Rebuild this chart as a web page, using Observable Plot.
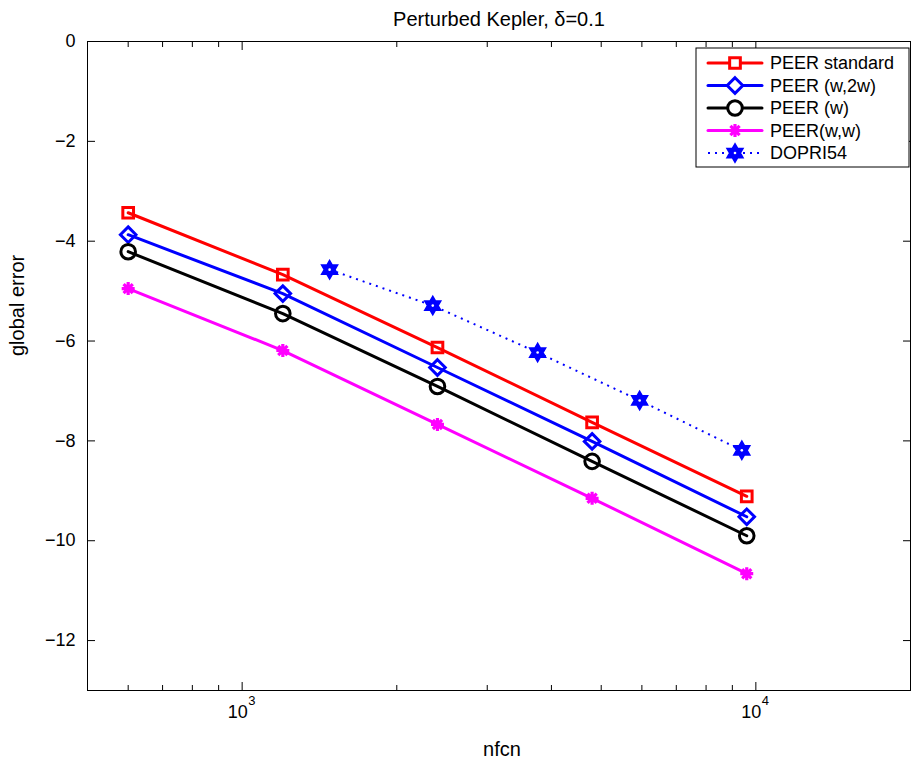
<!DOCTYPE html>
<html>
<head>
<meta charset="utf-8">
<script src="https://cdn.jsdelivr.net/npm/d3@7"></script>
<script src="https://cdn.jsdelivr.net/npm/@observablehq/plot@0.6"></script>
<style>
  html, body { margin: 0; padding: 0; background: #fff; }
  #chart { position: relative; width: 912px; height: 761px; }
  svg { font-family: "Liberation Sans", Arial, Helvetica, sans-serif; }
</style>
</head>
<body>
<div id="chart"></div>
<script>
// ---- data ----
const nfcnPeer = [600, 1200, 2400, 4800, 9600];
const peerStandard = [-3.43, -4.67, -6.13, -7.63, -9.11];
const peerW2w = [-3.87, -5.05, -6.53, -8.01, -9.52];
const peerW = [-4.21, -5.45, -6.91, -8.41, -9.90];
const peerWw = [-4.95, -6.19, -7.67, -9.15, -10.66];
const nfcnDopri = [1480, 2350, 3760, 5940, 9390];
const dopri54 = [-4.57, -5.29, -6.23, -7.19, -8.19];

const seriesNames = ["PEER standard", "PEER (w,2w)", "PEER (w)", "PEER(w,w)", "DOPRI54"];
const xMajorTicks = [1000, 10000];
const xMajorBase = ["10", "10"];
const xMajorExp = ["3", "4"];
const xMinorTicks = [600, 700, 800, 900, 2000, 3000, 4000, 5000, 6000, 7000, 8000, 9000];
const yTicks = [0, -2, -4, -6, -8, -10, -12];
const titleText = "Perturbed Kepler, δ=0.1";
const xLabel = "nfcn";
const yLabel = "global error";

// ---- custom symbols ----
const hexagram = {
  draw(ctx, size) {
    const R = Math.sqrt(size / Math.PI) * 1.25;
    const r = R / Math.sqrt(3);
    for (let i = 0; i < 12; i++) {
      const a = Math.PI / 2 + i * Math.PI / 6;
      const rr = i % 2 ? r : R;
      const x = rr * Math.cos(a), y = -rr * Math.sin(a);
      if (i) ctx.lineTo(x, y); else ctx.moveTo(x, y);
    }
    ctx.closePath();
  }
};
const asterisk8 = {
  draw(ctx, size) {
    const R = Math.sqrt(size / Math.PI);
    for (let i = 0; i < 4; i++) {
      const a = i * Math.PI / 4;
      const x = R * Math.cos(a), y = R * Math.sin(a);
      ctx.moveTo(-x, -y);
      ctx.lineTo(x, y);
    }
  }
};

const styles = [
  {name: seriesNames[0], xs: nfcnPeer, ys: peerStandard, color: "#ff0000", symbol: "square2", r: 6.8, fill: "none", sw: 3, dash: null, lw: 3},
  {name: seriesNames[1], xs: nfcnPeer, ys: peerW2w, color: "#0000ff", symbol: "diamond2", r: 7, fill: "none", sw: 3, dash: null, lw: 3},
  {name: seriesNames[2], xs: nfcnPeer, ys: peerW, color: "#000000", symbol: "circle", r: 7.3, fill: "none", sw: 3, dash: null, lw: 3},
  {name: seriesNames[3], xs: nfcnPeer, ys: peerWw, color: "#ff00ff", symbol: asterisk8, r: 6.5, fill: "none", sw: 3.2, dash: null, lw: 3},
  {name: seriesNames[4], xs: nfcnDopri, ys: dopri54, color: "#0000ff", symbol: hexagram, r: 7.4, fill: "#0000ff", sw: 1.5, dash: "2,5", lw: 2}
];

const rows = styles.flatMap(s => s.xs.map((x, i) => ({series: s.name, x, y: s.ys[i]})));
const majorRows = xMajorTicks.map((v, i) => ({v, base: xMajorBase[i], exp: xMajorExp[i]}));

const marks = [Plot.frame({stroke: "black", strokeWidth: 1})];
// lines
for (const s of styles) {
  marks.push(Plot.line(rows.filter(d => d.series === s.name), {
    x: "x", y: "y", stroke: s.color, strokeWidth: s.lw,
    strokeDasharray: s.dash, strokeLinecap: s.dash ? "butt" : "round"
  }));
}
// markers
for (const s of styles) {
  marks.push(Plot.dot(rows.filter(d => d.series === s.name), {
    x: "x", y: "y", symbol: s.symbol, r: s.r,
    stroke: s.color, fill: s.fill, strokeWidth: s.sw
  }));
}
marks.push(Plot.dot(rows.filter(d => d.series === seriesNames[4]), {x: "x", y: "y", r: 1.3, fill: "white", stroke: null}));

// ticks (inward)
for (const anchor of ["bottom", "top"]) {
  marks.push(Plot.axisX({anchor, ticks: xMajorTicks, tickSize: -8, text: null, label: null}));
  marks.push(Plot.axisX({anchor, ticks: xMinorTicks, tickSize: -5, text: null, label: null}));
}
for (const anchor of ["left", "right"]) {
  marks.push(Plot.axisY({anchor, ticks: yTicks, tickSize: -8, text: null, label: null}));
}
// y tick labels
marks.push(Plot.axisY({anchor: "left", ticks: yTicks, tickSize: 0, tickPadding: 12, fontSize: 18, label: null}));
// x tick labels: 10 with superscript exponent
marks.push(Plot.text(majorRows, {x: "v", text: "base", frameAnchor: "bottom", lineAnchor: "top", dy: 15.2, dx: -4.5, fontSize: 18, fill: "black"}));
marks.push(Plot.text(majorRows, {x: "v", text: "exp", frameAnchor: "bottom", lineAnchor: "top", dy: 5.5, dx: 6, textAnchor: "start", fontSize: 13, fill: "black"}));
// axis labels
marks.push(Plot.text([xLabel], {frameAnchor: "bottom", lineAnchor: "middle", dy: 59.5, dx: 3, fontSize: 20, fill: "black"}));
marks.push(Plot.text([yLabel], {frameAnchor: "left", lineAnchor: "middle", rotate: -90, dx: -70, dy: -10, fontSize: 20, fill: "black"}));
// title
marks.push(Plot.text([titleText], {frameAnchor: "top", dy: -21.5, lineAnchor: "middle", fontSize: 20, fill: "black"}));

const plot = Plot.plot({
  width: 912, height: 761,
  marginLeft: 87, marginRight: 2, marginTop: 41, marginBottom: 71,
  style: {fontFamily: '"Liberation Sans", Arial, Helvetica, sans-serif', fontSize: "18px", color: "black", background: "white"},
  x: {type: "log", domain: [500, 20000]},
  y: {domain: [-13, 0]},
  marks
});

// ---- legend (drawn into the plot svg) ----
const svg = d3.select(plot);
const lg = svg.append("g").attr("transform", "translate(696,48)");
lg.append("rect").attr("width", 213).attr("height", 119).attr("fill", "white").attr("stroke", "black").attr("stroke-width", 1);
styles.forEach((s, i) => {
  const cy = 15 + i * 22.5;
  const row = lg.append("g").attr("transform", `translate(0,${cy})`);
  row.append("line").attr("x1", 12).attr("x2", 66).attr("y1", 0).attr("y2", 0)
    .attr("stroke", s.color).attr("stroke-width", s.lw)
    .attr("stroke-dasharray", s.dash).attr("stroke-linecap", s.dash ? "butt" : "round");
  const symType = typeof s.symbol === "string"
    ? ({square2: d3.symbolSquare2, diamond2: d3.symbolDiamond2, circle: d3.symbolCircle})[s.symbol]
    : s.symbol;
  row.append("path").attr("transform", "translate(39,0)")
    .attr("d", d3.symbol(symType, s.r * s.r * Math.PI)())
    .attr("fill", s.fill === "none" ? "white" : s.fill).attr("stroke", s.color).attr("stroke-width", s.sw);
  if (s.symbol === hexagram) row.append("circle").attr("cx", 39).attr("r", 1.3).attr("fill", "white");
  row.append("text").attr("x", 74).attr("y", 0).attr("dy", "0.35em")
    .attr("text-anchor", "start").attr("font-size", 18).attr("fill", "black").text(s.name);
});

document.getElementById("chart").appendChild(plot);
</script>
</body>
</html>
